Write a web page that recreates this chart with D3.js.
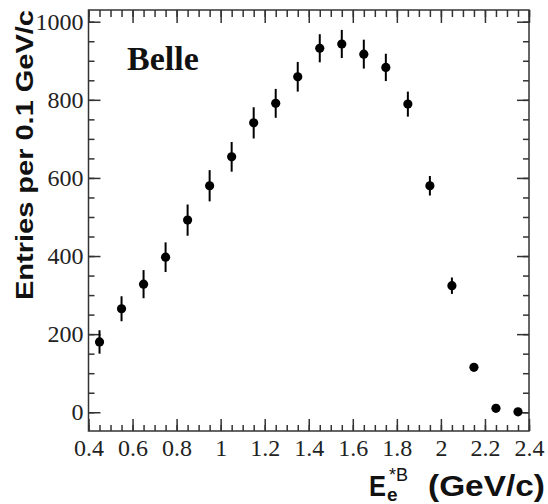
<!DOCTYPE html>
<html>
<head>
<meta charset="utf-8">
<script src="https://cdn.jsdelivr.net/npm/d3@7"></script>
<style>
html,body{margin:0;padding:0;background:#fff;}
svg{display:block;}
</style>
</head>
<body>
<svg id="chart" width="548" height="504"></svg>
<script>
// ---- data ----
const energies = [0.45,0.55,0.65,0.75,0.85,0.95,1.05,1.15,1.25,1.35,1.45,1.55,1.65,1.75,1.85,1.95,2.05,2.15,2.25,2.35];
const entries  = [180,265,328,397,492,580,654,741,791,859,932,943,917,883,789,580,324,115,10,1];
const errors   = [30,32,36,38,40,40,38,40,37,38,36,36,37,35,32,25,21,8,3,1];
const xTicks = [0.4,0.6,0.8,1.0,1.2,1.4,1.6,1.8,2.0,2.2,2.4];
const xMinorTicks = d3.range(0, 41).map(i => +(0.4 + i*0.05).toFixed(2));
const yTicks = [0,200,400,600,800,1000];
const yMinorTicks = d3.range(0, 21).map(i => i*50);

// ---- layout ----
const L = 88.5, R = 529, T = 10, B = 431;
const x = d3.scaleLinear().domain([0.4, 2.4]).range([L, R]);
const y = d3.scaleLinear().domain([-48, 1030]).range([B, T]);

const svg = d3.select("#chart");
const ink = "#333";
const fmt = d => String(+d.toFixed(1));

function style(g){
  g.select(".domain").remove();
  g.selectAll(".tick line").attr("stroke", ink).attr("stroke-width", 1.5);
  g.selectAll(".tick text").attr("fill", "#222")
    .style("font-family", "'Liberation Serif','Times New Roman',serif")
    .style("font-size", "24px");
}

// bottom
svg.append("g").attr("transform", `translate(0,${B})`)
  .call(d3.axisBottom(x).tickValues(xMinorTicks).tickSize(-6).tickFormat("")).call(style);
svg.append("g").attr("transform", `translate(0,${B})`)
  .call(d3.axisBottom(x).tickValues(xTicks).tickSize(-12).tickPadding(8).tickFormat(fmt)).call(style);
// top mirror
svg.append("g").attr("transform", `translate(0,${T})`)
  .call(d3.axisTop(x).tickValues(xMinorTicks).tickSize(-7).tickFormat("")).call(style);
svg.append("g").attr("transform", `translate(0,${T})`)
  .call(d3.axisTop(x).tickValues(xTicks).tickSize(-13).tickFormat("")).call(style);
// left
svg.append("g").attr("transform", `translate(${L},0)`)
  .call(d3.axisLeft(y).tickValues(yMinorTicks).tickSize(-6).tickFormat("")).call(style);
svg.append("g").attr("transform", `translate(${L},0)`)
  .call(d3.axisLeft(y).tickValues(yTicks).tickSize(-12).tickPadding(5).tickFormat(d3.format("d"))).call(style);
// right mirror
svg.append("g").attr("transform", `translate(${R},0)`)
  .call(d3.axisRight(y).tickValues(yMinorTicks).tickSize(-6).tickFormat("")).call(style);
svg.append("g").attr("transform", `translate(${R},0)`)
  .call(d3.axisRight(y).tickValues(yTicks).tickSize(-12).tickFormat("")).call(style);

// frame
svg.append("rect").attr("x", L).attr("y", T).attr("width", R-L).attr("height", B-T)
  .attr("fill", "none").attr("stroke", ink).attr("stroke-width", 1.5);

// data
const pts = energies.map((e,i) => ({e, v: entries[i], err: errors[i]}));
svg.append("g").selectAll("line").data(pts).join("line")
  .attr("x1", d => x(d.e)).attr("x2", d => x(d.e))
  .attr("y1", d => y(d.v - d.err)).attr("y2", d => y(d.v + d.err))
  .attr("stroke", "#000").attr("stroke-width", 2);
svg.append("g").selectAll("circle").data(pts).join("circle")
  .attr("cx", d => x(d.e)).attr("cy", d => y(d.v)).attr("r", 4.6).attr("fill", "#000");

// texts
svg.append("text").attr("x", 127).attr("y", 70)
  .style("font-family", "'Liberation Serif','Times New Roman',serif")
  .style("font-weight", "bold").style("font-size", "34px").attr("fill", "#111")
  .text("Belle");

svg.append("text").attr("transform", "translate(33,300) rotate(-90)")
  .style("font-family", "'Liberation Sans',Arial,sans-serif")
  .style("font-weight", "bold").style("font-size", "24px").attr("fill", "#111")
  .attr("textLength", 290).attr("lengthAdjust", "spacingAndGlyphs")
  .text("Entries per 0.1 GeV/c");

const sans = "'Liberation Sans',Arial,sans-serif";
svg.append("text").attr("x", 369).attr("y", 496)
  .style("font-family", sans).style("font-weight", "bold").style("font-size", "29px").attr("fill", "#111")
  .attr("textLength", 17).attr("lengthAdjust", "spacingAndGlyphs")
  .text("E");
svg.append("text").attr("x", 387).attr("y", 501)
  .style("font-family", sans).style("font-weight", "bold").style("font-size", "19px").attr("fill", "#111")
  .text("e");
svg.append("text").attr("x", 389).attr("y", 481)
  .style("font-family", sans).style("font-size", "18px").attr("fill", "#111")
  .text("*B");
svg.append("text").attr("x", 428).attr("y", 496)
  .style("font-family", sans).style("font-weight", "bold").style("font-size", "29px").attr("fill", "#111")
  .attr("textLength", 117).attr("lengthAdjust", "spacingAndGlyphs")
  .text("(GeV/c)");
</script>
</body>
</html>
